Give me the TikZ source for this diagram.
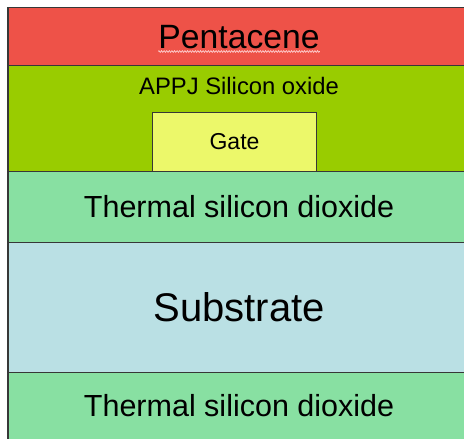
\documentclass[tikz,border=0pt]{standalone}
\usepackage{fontspec}
\setmainfont{Liberation Sans}
\usetikzlibrary{positioning, decorations.pathmorphing}
\definecolor{pentred}{RGB}{238,82,72}
\definecolor{appjgreen}{RGB}{153,204,0}
\definecolor{gateyellow}{RGB}{236,248,106}
\definecolor{thermgreen}{RGB}{136,224,162}
\definecolor{subblue}{RGB}{186,224,228}
\definecolor{edgegray}{RGB}{55,55,55}
\tikzset{
  layer/.style={rectangle, draw=edgegray, line width=1.1pt,
    anchor=north west, inner sep=0pt, minimum width=461pt},
  gatebox/.style={rectangle, draw=edgegray, fill=gateyellow, line width=1pt,
    anchor=north west, inner sep=0pt, minimum width=164pt, minimum height=59pt},
  labeltext/.style={inner sep=0pt, text=black},
  spellmark/.style={draw=white!85!red, line width=0.6pt,
    decorate, decoration={zigzag, segment length=2.6pt, amplitude=0.9pt}}
}

\begin{document}
\begin{tikzpicture}[x=1pt, y=-1pt]
  \useasboundingbox (0,0) rectangle (464,439);
  \clip (0,0) rectangle (464,439);

  % stack of layers, top to bottom
  \node[layer, fill=pentred, minimum height=58pt] (pent) at (8,7) {};
  \node[layer, fill=appjgreen, minimum height=106pt] (appj) at (8,65) {};
  \node[layer, fill=thermgreen, minimum height=71pt] (thtop) at (8,171) {};
  \node[layer, fill=subblue, minimum height=130pt] (sub) at (8,242) {};
  \node[layer, fill=thermgreen, minimum height=75pt] (thbot) at (8,372) {};

  % gate inside the APPJ oxide
  \node[gatebox, font=\fontsize{23}{28}\selectfont] (gate) at (152,112) {Gate};

  % labels
  \node[labeltext, font=\fontsize{33.7}{40}\selectfont] (penttext) at ([yshift=-1pt]pent.center) {Pentacene};
  \node[labeltext, font=\fontsize{23.8}{28}\selectfont] (appjtext) at ([yshift=-21pt]appj.north) {APPJ Silicon oxide};
  \node[labeltext, font=\fontsize{30.5}{36}\selectfont] (thtoptext) at (thtop.center) {Thermal silicon dioxide};
  \node[labeltext, font=\fontsize{40}{48}\selectfont] (subtext) at (sub.center) {Substrate};
  \node[labeltext, font=\fontsize{30.5}{36}\selectfont] (thbottext) at ([yshift=4pt]thbot.center) {Thermal silicon dioxide};

  \draw[spellmark] ([yshift=-2pt]penttext.south west) -- ([yshift=-2pt]penttext.south east);

  % heavier left edge
  \draw[edgegray, line width=2.4pt] (pent.north west) -- (thbot.south west);
\end{tikzpicture}
\end{document}
